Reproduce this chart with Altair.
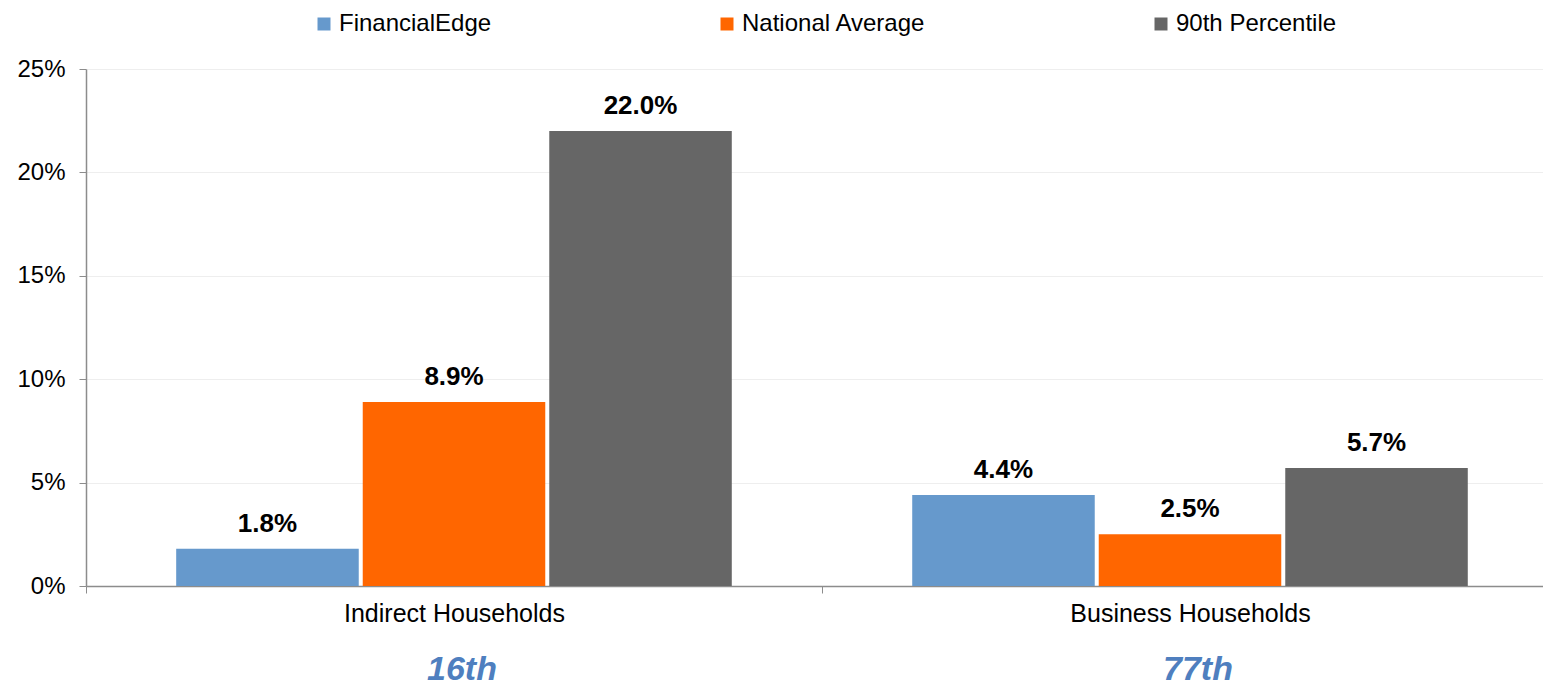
import altair as alt
import pandas as pd

categories = ["Indirect Households", "Business Households"]
series = ["FinancialEdge", "National Average", "90th Percentile"]
values_indirect = [0.018, 0.089, 0.220]
values_business = [0.044, 0.025, 0.057]
ranks = ["16th", "77th"]
colors = ["#6699CC", "#FF6600", "#666666"]
y_ticks = [0, 0.05, 0.10, 0.15, 0.20, 0.25]

rows = []
for cat, vals in zip(categories, [values_indirect, values_business]):
    for s, v in zip(series, vals):
        rows.append({"category": cat, "series": s, "value": v})
df = pd.DataFrame(rows)
rank_df = pd.DataFrame({"category": categories, "rank": ranks})

FONT = "Liberation Sans"
AXIS_GREY = "#8c8c8c"

x_enc = alt.X(
    "category:N",
    sort=categories,
    scale=alt.Scale(range=[0, 1472], paddingInner=0, paddingOuter=0),
    axis=alt.Axis(
        title=None, labelAngle=0, tickBand="extent", tickSize=7,
        tickColor=AXIS_GREY, domainColor=AXIS_GREY, domainWidth=1.5,
        labelFontSize=25, labelColor="black", labelPadding=8, grid=False,
        labelLimit=0,
    ),
)
xoff_enc = alt.XOffset(
    "series:N", sort=series,
    scale=alt.Scale(paddingInner=0.0214, paddingOuter=0.4837),
)
y_enc = alt.Y(
    "value:Q",
    scale=alt.Scale(domain=[0, 0.25], nice=False),
    axis=alt.Axis(
        title=None, format="%", values=y_ticks, tickSize=7,
        tickColor=AXIS_GREY, domainColor=AXIS_GREY, domainWidth=1.5,
        gridColor="#eeeeee", labelFontSize=24, labelColor="black",
        labelPadding=14,
    ),
)

bars = alt.Chart(df).mark_bar().encode(
    x=x_enc,
    xOffset=xoff_enc,
    y=y_enc,
    color=alt.Color(
        "series:N", sort=series,
        scale=alt.Scale(domain=series, range=colors),
        legend=alt.Legend(
            title=None, orient="none", legendX=226, legendY=-57,
            direction="horizontal", symbolType="square", symbolSize=169,
            symbolStrokeWidth=0, labelFontSize=24, labelColor="black",
            labelOffset=3, columnPadding=223, labelLimit=0,
        ),
    ),
)

labels = alt.Chart(df).mark_text(
    baseline="bottom", dy=-12, fontSize=26, fontWeight="bold", color="black",
).encode(
    x=alt.X("category:N", sort=categories),
    xOffset=alt.XOffset("series:N", sort=series),
    y="value:Q",
    text=alt.Text("value:Q", format=".1%"),
)

rank_text = alt.Chart(rank_df).mark_text(
    baseline="alphabetic", fontSize=34, fontWeight="bold", fontStyle="italic",
    color="#4F7FBF", dx=8,
).encode(
    x=alt.X("category:N", sort=categories),
    y=alt.value(611),
    text="rank:N",
)

chart = alt.layer(bars, labels, rank_text).properties(
    width=1457,
    height=517,
    autosize=alt.AutoSizeParams(type="none"),
    padding={"left": 78, "top": 61, "right": 0, "bottom": 102},
).configure(font=FONT).configure_view(stroke=None)

chart.save("out.html", embed_options={"renderer": "svg", "actions": False})
